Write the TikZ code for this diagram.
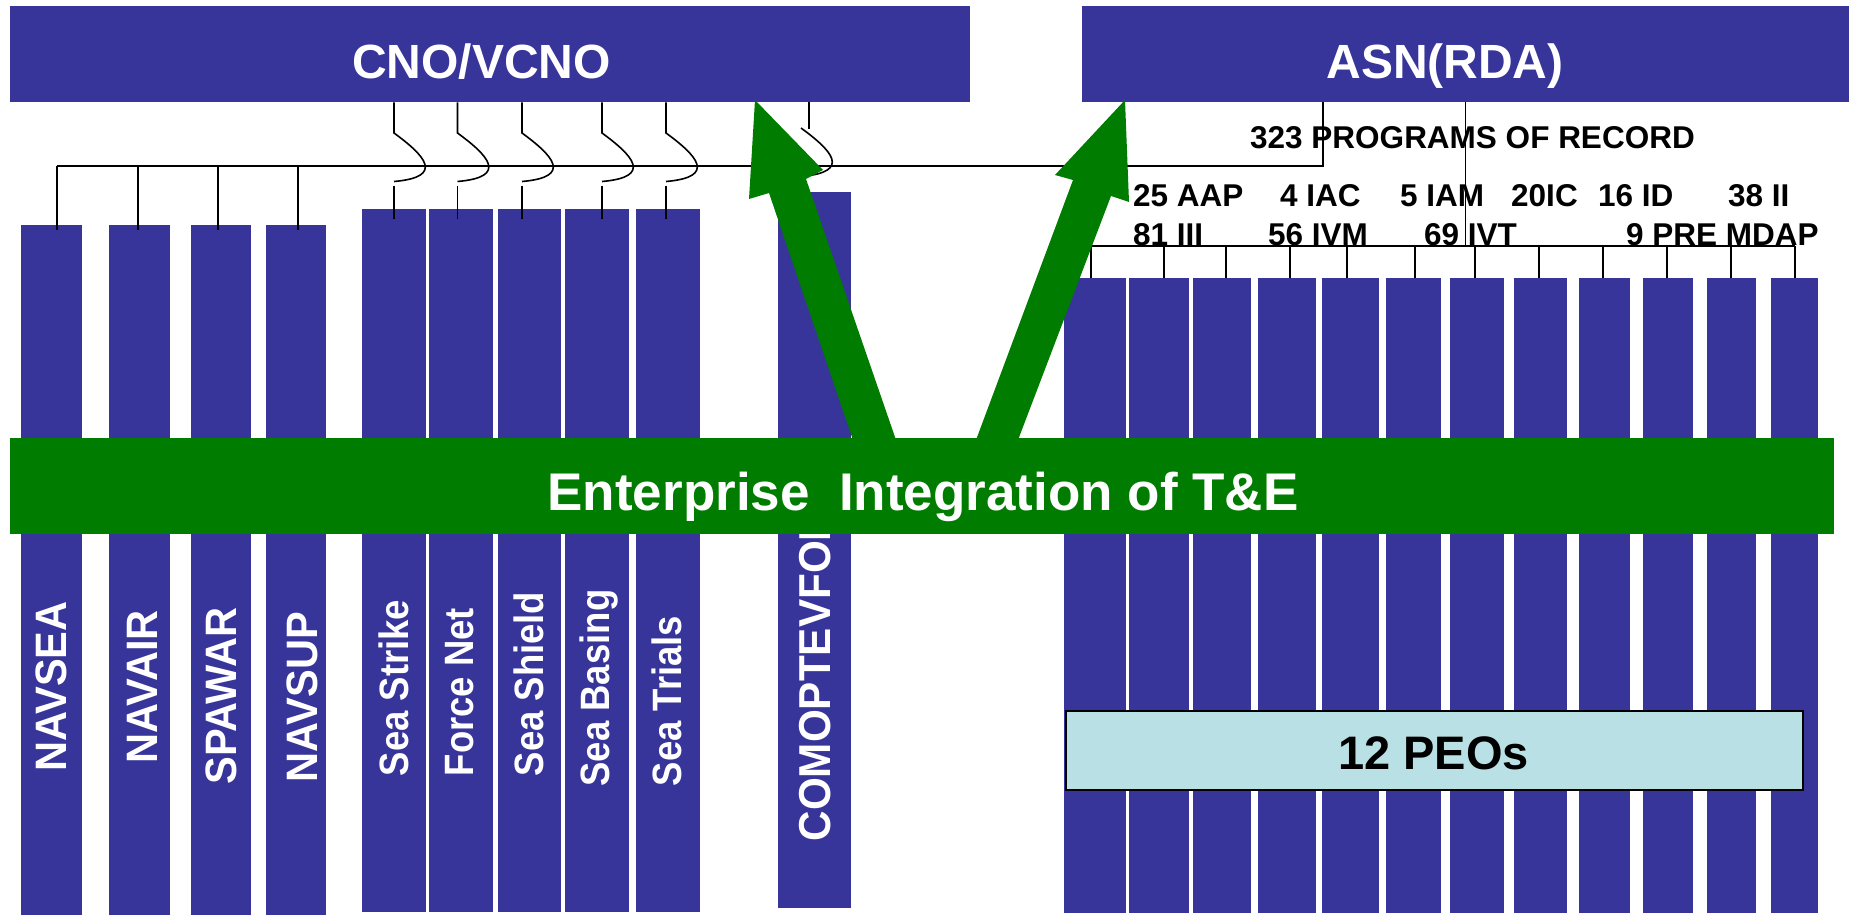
\documentclass[tikz,border=0pt]{standalone}
\usepackage{fontspec}
\setmainfont{Liberation Sans}
\definecolor{navy}{RGB}{55,53,153}
\definecolor{tegreen}{RGB}{0,125,0}
\definecolor{peoblue}{RGB}{185,224,228}
\tikzset{
  bar/.style={fill=navy, draw=none, inner sep=0pt, anchor=north west},
  wire/.style={black, line width=1.6pt},
  toptext/.style={inner sep=0pt, anchor=base, text=white, font=\bfseries\fontsize{48}{52}\selectfont},
  lbl/.style={inner sep=0pt, anchor=base west, text=black, font=\bfseries\fontsize{31.5}{34}\selectfont},
  vbig/.style={rotate=90, inner sep=0pt, anchor=base, text=white, font=\bfseries\fontsize{44}{46}\selectfont},
  vsea/.style={rotate=90, inner sep=0pt, anchor=base, text=white, font=\bfseries\fontsize{41}{44}\selectfont},
}
\begin{document}
\begin{tikzpicture}[x=1pt,y=-1pt]
\useasboundingbox (0,0) rectangle (1849,915);

% ---------- top bars
\node[bar, minimum width=960pt, minimum height=96pt] (cno) at (10,6) {};
\node[bar, minimum width=767pt, minimum height=96pt] (asn) at (1082,6) {};
\node[toptext] (cnot) at (481.5,78.3) {CNO/VCNO};
\node[toptext] (asnt) at (1445,78.3) {ASN(RDA)};

% ---------- left (systems commands) columns
\node[bar, minimum width=61pt, minimum height=690pt] (navsea) at (21,225) {};
\node[bar, minimum width=61pt, minimum height=690pt] (navair) at (109,225) {};
\node[bar, minimum width=60pt, minimum height=690pt] (spawar) at (191,225) {};
\node[bar, minimum width=60pt, minimum height=690pt] (navsup) at (266,225) {};

% ---------- sea power columns
\node[bar, minimum width=64pt, minimum height=703pt] (strike) at (362,209) {};
\node[bar, minimum width=64pt, minimum height=703pt] (fnet) at (429,209) {};
\node[bar, minimum width=63pt, minimum height=703pt] (shield) at (498,209) {};
\node[bar, minimum width=64pt, minimum height=703pt] (basing) at (565,209) {};
\node[bar, minimum width=64pt, minimum height=703pt] (trials) at (636,209) {};

% ---------- COMOPTEVFOR column
\node[bar, minimum width=73pt, minimum height=716pt] (comop) at (778,192) {};

% ---------- PEO columns
\foreach \i/\x/\w in {1/1064/62,2/1129/60,3/1193/58,4/1258/58,5/1322/57,6/1386/55,7/1450/54,8/1514/53,9/1579/51,10/1643/50,11/1707/49,12/1771/47}
  \node[bar, minimum width=\w pt, minimum height=635pt] (peo\i) at (\x,278) {};

% ---------- connectors, left side
\coordinate (h0) at (57,166);
\coordinate (h1) at (1323,166);
\draw[wire] (h0) -- (h1) -- (h1 |- asn.south);
\foreach \x/\n in {57/navsea,138/navair,218/spawar,298/navsup}{
  \coordinate (d) at (\x,166);
  \draw[wire] (d) -- ([yshift=-5pt]d |- \n.north);
}
\foreach \x/\n in {394/strike,457.5/fnet,522/shield,602/basing,666/trials}{
  \coordinate (u) at (\x,133);
  \coordinate (l) at (\x,186);
  \draw[wire] (u |- cno.south) -- (u) .. controls ++(30,22) and ++(52,-4.5) .. ++(0,48.5);
  \draw[wire] (l) -- ([yshift=-10pt]l |- \n.north);
}
\coordinate (cu) at (809,129);
\coordinate (cj) at (801,128);
\draw[wire] (cu |- cno.south) -- (cu);
\draw[wire] (cj) .. controls ++(30,22) and ++(52,-4.5) .. ++(0,48.5);

% ---------- connectors, right side
\coordinate (v0) at (1465.5,246);
\draw[wire] (v0 |- asn.south) -- (v0);
\coordinate (b0) at (1091,246);
\coordinate (b1) at (1795,246);
\draw[wire] (b0) -- (b1);
\foreach \x/\n in {1091/peo1,1164/peo2,1226/peo3,1290/peo4,1347/peo5,1415/peo6,1475/peo7,1539/peo8,1603/peo9,1667/peo10,1731/peo11,1795/peo12}{
  \coordinate (p) at (\x,246);
  \draw[wire] (p) -- (p |- \n.north);
}

% ---------- column texts
\node[vbig] (tnavsea) at (66.7,686.5) {\scalebox{0.945}[1]{NAVSEA}};
\node[vbig] (tnavair) at (157.3,686.7) {\scalebox{0.945}[1]{NAVAIR}};
\node[vbig] (tspawar) at (236.5,696) {\scalebox{0.945}[1]{SPAWAR}};
\node[vbig] (tnavsup) at (317.5,697) {\scalebox{0.945}[1]{NAVSUP}};
\node[vsea] (tstrike) at (408,688) {\scalebox{0.89}[1]{Sea Strike}};
\node[vsea] (tfnet) at (473,692) {\scalebox{0.89}[1]{Force Net}};
\node[vsea] (tshield) at (543,684) {\scalebox{0.89}[1]{Sea Shield}};
\node[vsea] (tbasing) at (609,688) {\scalebox{0.89}[1]{Sea Basing}};
\node[vsea] (ttrials) at (681,701) {\scalebox{0.89}[1]{Sea Trials}};
\node[vbig, font=\bfseries\fontsize{44.7}{47}\selectfont] (tcomop) at (830,676) {\scalebox{0.945}[1]{COMOPTEVFOR}};

% ---------- green band
\node[fill=tegreen, draw=none, inner sep=0pt, anchor=north west, minimum width=1824pt, minimum height=96pt] (band) at (10,438) {};
\node[inner sep=0pt, anchor=base, text=white, font=\bfseries\fontsize{53}{56}\selectfont] (bandt) at (923,510) {Enterprise\ \ Integration of T\&E};

% ---------- green arrows
\coordinate (ltip) at (755,100);
\coordinate (rtip) at (1125,100);
\fill[tegreen] (ltip) -- (823,170) -- (806,179) -- (896,440) -- (853,440) -- (769,193) -- (749,199) -- cycle;
\fill[tegreen] (rtip) -- (1129,202) -- (1111,196) -- (1018,440) -- (976,440) -- (1073,180) -- (1055,175) -- cycle;

% ---------- program labels
\node[lbl] (prog) at (1250,149) {323 PROGRAMS OF RECORD};
\node[lbl] (aap) at (1133,206.7) {25 AAP};
\node[lbl] (iac) at (1280,206.7) {4 IAC};
\node[lbl] (iam) at (1400,206.7) {5 IAM};
\node[lbl] (ic) at (1511,206.7) {20IC};
\node[lbl] (id) at (1598,206.7) {16 ID};
\node[lbl] (ii) at (1728,206.7) {38 II};
\node[lbl] (iii) at (1133,245) {81 III};
\node[lbl] (ivm) at (1268,245) {56 IVM};
\node[lbl] (ivt) at (1424,245) {69 IVT};
\node[lbl] (mdap) at (1626,245) {9 PRE MDAP};

% ---------- 12 PEOs box
\node[draw=black, line width=2pt, fill=peoblue, inner sep=0pt, anchor=north west, minimum width=737pt, minimum height=79pt] (peos) at (1065,710) {};
\node[inner sep=0pt, anchor=base, text=black, font=\bfseries\fontsize{47}{50}\selectfont] (peost) at (1433.5,769) {12 PEOs};
\end{tikzpicture}
\end{document}
